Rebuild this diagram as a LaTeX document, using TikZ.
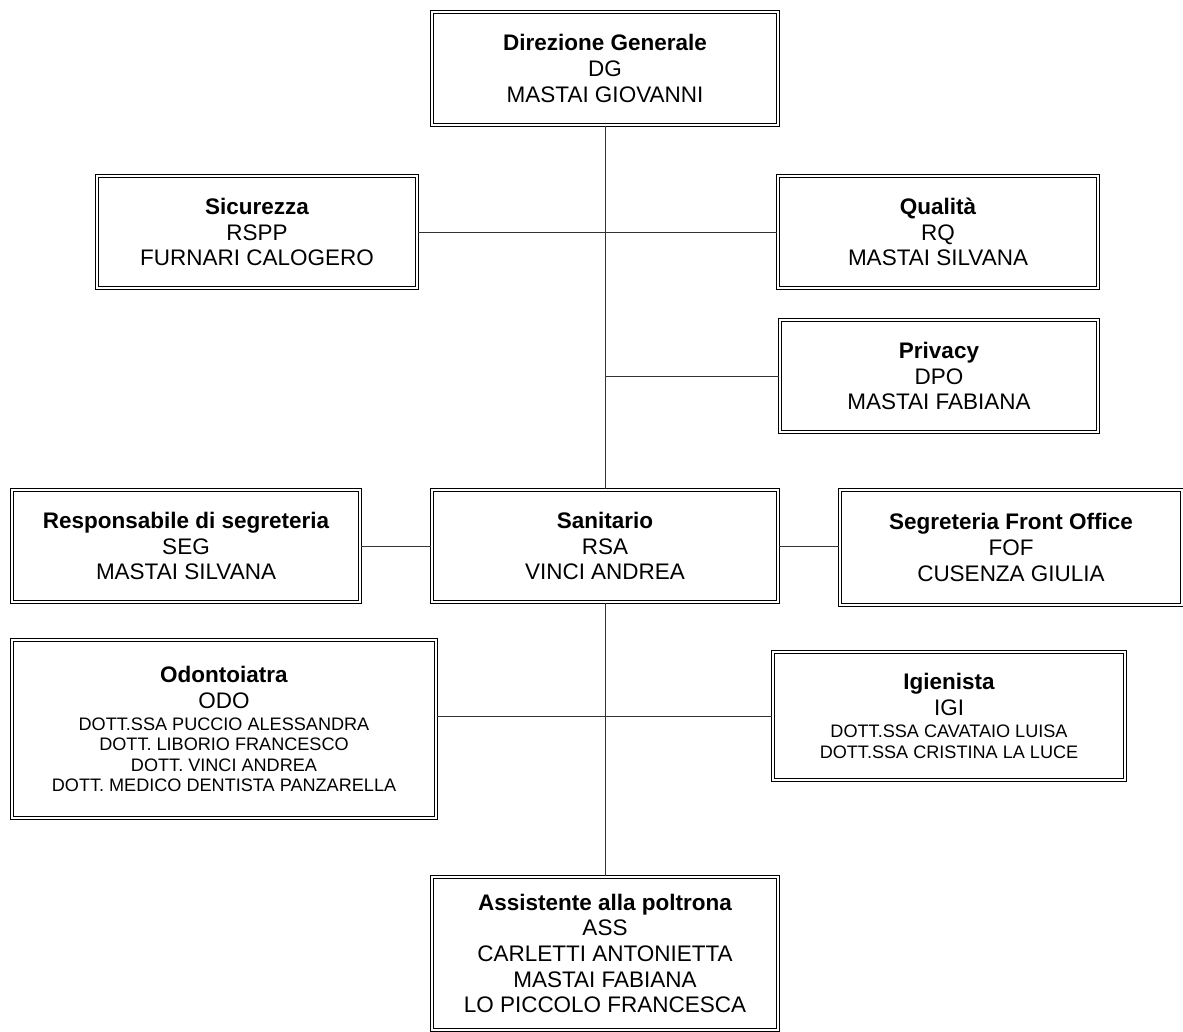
\documentclass[tikz,border=0pt]{standalone}
\usepackage{fontspec}
\setmainfont{Liberation Sans}
\usepackage{tikz}
\newcommand{\piccolotxt}{\fontsize{10.3}{11.6}\selectfont}

\begin{document}
\begin{tikzpicture}[scale=1,
  ufficio/.style={draw, double, line width=0.7pt, double distance=1.4pt, align=center, inner sep=2pt,
    font=\fontsize{12.8}{14.6}\selectfont},
  linea/.style={line width=0.5pt, black!80}]
\useasboundingbox (0,0) rectangle (23.66,-20.64);
\node[ufficio, minimum width=6.92cm, minimum height=2.26cm] (dg) at (12.10,-1.37) {\textbf{Direzione Generale}\\DG\\MASTAI GIOVANNI};
\node[ufficio, minimum width=6.40cm, minimum height=2.24cm] (sic) at (5.14,-4.64) {\textbf{Sicurezza}\\RSPP\\FURNARI CALOGERO};
\node[ufficio, minimum width=6.40cm, minimum height=2.24cm] (qua) at (18.76,-4.64) {\textbf{Qualità}\\RQ\\MASTAI SILVANA};
\node[ufficio, minimum width=6.36cm, minimum height=2.24cm] (pri) at (18.78,-7.52) {\textbf{Privacy}\\DPO\\MASTAI FABIANA};
\node[ufficio, minimum width=6.96cm, minimum height=2.24cm] (seg) at (3.72,-10.92) {\textbf{Responsabile di segreteria}\\SEG\\MASTAI SILVANA};
\node[ufficio, minimum width=6.92cm, minimum height=2.24cm] (san) at (12.10,-10.92) {\textbf{Sanitario}\\RSA\\VINCI ANDREA};
\node[ufficio, minimum width=6.84cm, minimum height=2.30cm] (fof) at (20.22,-10.95) {\textbf{Segreteria Front Office}\\FOF\\CUSENZA GIULIA};
\node[ufficio, minimum width=8.48cm, minimum height=3.56cm] (odo) at (4.48,-14.58) {\textbf{Odontoiatra}\\ODO\\[-2pt]
  {\piccolotxt DOTT.SSA PUCCIO ALESSANDRA}\\[-3pt] {\piccolotxt DOTT. LIBORIO FRANCESCO}\\[-3pt]
  {\piccolotxt DOTT. VINCI ANDREA}\\[-3pt] {\piccolotxt DOTT. MEDICO DENTISTA PANZARELLA}};
\node[ufficio, minimum width=7.04cm, minimum height=2.56cm] (igi) at (18.98,-14.32) {\textbf{Igienista}\\IGI\\[-2pt]
  {\piccolotxt DOTT.SSA CAVATAIO LUISA}\\[-3pt] {\piccolotxt DOTT.SSA CRISTINA LA LUCE}};
\node[ufficio, minimum width=6.92cm, minimum height=3.06cm] (ass) at (12.10,-19.07) {\textbf{Assistente alla poltrona}\\ASS\\CARLETTI ANTONIETTA\\MASTAI FABIANA\\LO PICCOLO FRANCESCA};
% collegamenti
\draw[linea] (dg.south) -- (san.north);
\draw[linea] (san.south) -- (ass.north);
\draw[linea] (sic.east) -- (qua.west);
\draw[linea] (pri.west) -- (pri.west -| dg.south);
\draw[linea] (seg.east) -- (san.west);
\draw[linea] (san.east) -- (san.east -| fof.west);
\draw[linea] (igi.west) -- (igi.west -| odo.east);
\end{tikzpicture}
\end{document}
